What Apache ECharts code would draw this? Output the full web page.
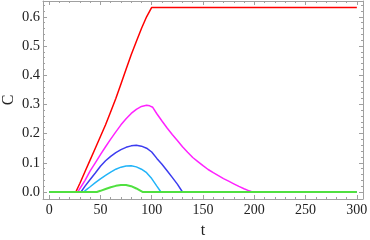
<!DOCTYPE html>
<html><head><meta charset="utf-8">
<script src="https://cdn.jsdelivr.net/npm/echarts@6/dist/echarts.min.js"></script>
<style>html,body{margin:0;padding:0;background:#fff}#c{width:370px;height:240px}</style>
</head><body><div id="c"></div>
<script>
const tRed = [0, 26, 30, 35, 40, 45, 50, 55, 60, 65, 70, 75, 80, 85, 90, 95, 100, 300];
const cRed = [0, 0, 0.03, 0.07, 0.11, 0.15, 0.19, 0.23, 0.275, 0.32, 0.37, 0.42, 0.47, 0.515, 0.56, 0.60, 0.632, 0.632];
const tMag = [0, 28, 30, 35, 40, 45, 50, 55, 60, 65, 70, 75, 80, 85, 90, 95, 98, 101, 105, 110, 115, 120, 125, 130, 135, 140, 145, 150, 155, 160, 165, 170, 175, 180, 185, 190, 195, 198, 300];
const cMag = [0, 0, 0.012, 0.04, 0.072, 0.1, 0.128, 0.155, 0.181, 0.206, 0.23, 0.251, 0.269, 0.283, 0.293, 0.297, 0.295, 0.29, 0.268, 0.243, 0.219, 0.197, 0.176, 0.155, 0.136, 0.118, 0.104, 0.09, 0.077, 0.066, 0.056, 0.046, 0.037, 0.028, 0.019, 0.011, 0.004, 0, 0];
const tBlue = [0, 31, 35, 40, 45, 50, 55, 60, 65, 70, 75, 80, 85, 90, 95, 100, 105, 110, 115, 120, 125, 130, 300];
const cBlue = [0, 0, 0.02, 0.043, 0.065, 0.088, 0.107, 0.122, 0.135, 0.145, 0.153, 0.158, 0.16, 0.157, 0.15, 0.137, 0.115, 0.095, 0.073, 0.05, 0.027, 0, 0];
const tCyan = [0, 33.5, 37, 40, 45, 50, 55, 60, 65, 70, 75, 80, 85, 90, 95, 100, 105, 109, 300];
const cCyan = [0, 0, 0.01, 0.018, 0.032, 0.045, 0.057, 0.068, 0.078, 0.085, 0.089, 0.09, 0.086, 0.078, 0.066, 0.046, 0.02, 0, 0];
const tGreen = [0, 46.5, 50, 55, 60, 65, 70, 75, 80, 85, 88, 91, 300];
const cGreen = [0, 0, 0.004, 0.01, 0.016, 0.021, 0.024, 0.024, 0.02, 0.012, 0.006, 0, 0];
const xMajor = [0, 50, 100, 150, 200, 250, 300];
const yMajor = [0, 0.1, 0.2, 0.3, 0.4, 0.5, 0.6];

const xMinor = []; for (let v = 0; v <= 300; v += 10) xMinor.push(v);
const yMinor = []; for (let i = 0; i <= 32; i++) yMinor.push(+(i * 0.02).toFixed(2));
const zip = (a, b) => a.map((v, i) => [v, b[i]]);
const frame = '#a0a0a0';
const font = 'Liberation Serif';
const XMIN = -6, XMAX = 306, YMIN = -0.024, YMAX = 0.654;

function xAx(pos, vals, len, labels, line) {
  return {type: 'value', position: pos, min: XMIN, max: XMAX, gridIndex: 0,
    axisLine: {show: line, onZero: false, lineStyle: {color: frame, width: 1}},
    axisTick: {show: true, inside: true, length: len, customValues: vals, lineStyle: {color: frame}},
    axisLabel: labels ? {show: true, customValues: vals, margin: 4, color: '#222', fontFamily: font, fontSize: 14} : {show: false},
    splitLine: {show: false}};
}
function yAx(pos, vals, len, labels, line) {
  return {type: 'value', position: pos, min: YMIN, max: YMAX, gridIndex: 0,
    axisLine: {show: line, onZero: false, lineStyle: {color: frame, width: 1}},
    axisTick: {show: true, inside: true, length: len, customValues: vals, lineStyle: {color: frame}},
    axisLabel: labels ? {show: true, customValues: vals, margin: 3, color: '#222', fontFamily: font, fontSize: 14.5,
      formatter: v => v.toFixed(1)} : {show: false},
    splitLine: {show: false}};
}
const xa = [xAx('bottom', xMajor, 4, true, true), xAx('bottom', xMinor, 2, false, false),
            xAx('top', xMajor, 4, false, true), xAx('top', xMinor, 2, false, false)];
xa[0].name = 't'; xa[0].nameLocation = 'middle'; xa[0].nameGap = 24;
xa[0].nameTextStyle = {fontFamily: font, fontSize: 16, color: '#222'};
const ya = [yAx('left', yMajor, 4, true, true), yAx('left', yMinor, 2, false, false),
            yAx('right', yMajor, 4, false, true), yAx('right', yMinor, 2, false, false)];

function ser(t, c, color, w) {
  return {type: 'line', data: zip(t, c), xAxisIndex: 0, yAxisIndex: 0, symbol: 'none',
    smooth: false, lineStyle: {color: color, width: w}, silent: true};
}
const chart = echarts.init(document.getElementById('c'), null, {renderer: 'canvas'});
chart.setOption({
  animation: false,
  grid: {left: 43, right: 7, top: 1, bottom: 41, containLabel: false, outerBoundsMode: 'none'},
  xAxis: xa, yAxis: ya,
  graphic: [{type: 'text', x: 9, y: 100, rotation: Math.PI / 2,
    style: {text: 'C', font: '16px "Liberation Serif"', fill: '#222', align: 'center', verticalAlign: 'middle'}}],
  series: [
    ser(tRed, cRed, '#ff0000', 1.5),
    ser(tMag, cMag, '#ff22ff', 1.5),
    ser(tBlue, cBlue, '#3c3cf0', 1.5),
    ser(tCyan, cCyan, '#22b4f8', 1.5),
    ser(tGreen, cGreen, '#50e040', 2)
  ]
});
</script></body></html>
